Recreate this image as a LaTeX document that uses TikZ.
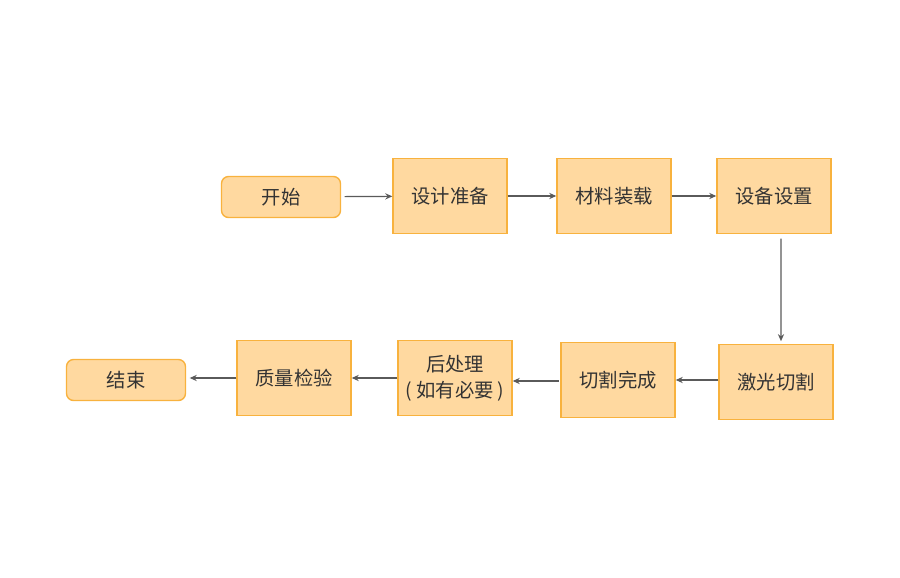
\documentclass[tikz,border=0pt]{standalone}
\usepackage{fontspec}
\setmainfont{Noto Sans CJK SC}
\usepackage{tikz}
\usetikzlibrary{arrows.meta,positioning}
\definecolor{boxfill}{RGB}{255,217,160}
\definecolor{boxline}{RGB}{248,178,62}
\definecolor{arrowgray}{RGB}{90,90,90}
\definecolor{textgray}{RGB}{51,51,51}
\tikzset{
  stepbox/.style={ draw=boxline, fill=boxfill, line width=0.8pt, inner xsep=1pt, minimum width=2.28cm, minimum height=1.5cm, text=textgray, font=\fontsize{11}{15}\selectfont, align=center }
}
\tikzset{
  termbox/.style={ stepbox, rounded corners=4pt, minimum width=2.38cm, minimum height=0.82cm }
}
\tikzset{
  flow/.style={ draw=arrowgray, line width=0.7pt, -{Stealth[length=4pt,width=3.5pt]} }
}

\begin{document}
\begin{tikzpicture}[x=0.02cm, y=-0.02cm]
      \useasboundingbox (0, 0) rectangle (900, 578);

      \node[termbox] (start) at (281, 197) {开始};
      \node[stepbox] (design) at (450, 196) {设计准备};
      \node[stepbox] (load) at (614, 196) {材料装载};
      \node[stepbox] (setup) at (774, 196) {设备设置};

      \node[stepbox] (laser) at (776, 382) {激光切割};
      \node[stepbox] (done) at (618, 380) {切割完成};
      \node[stepbox] (post) at (455, 378) {后处理\\(\ 如有必要\ )};
      \node[stepbox] (check) at (294, 378) {质量检验};
      \node[termbox] (end) at (126, 380) {结束};

      % top row
      \draw[flow, shorten <=2pt] (start) -- (design);
      \draw[flow] (design) -- (load);
      \draw[flow] (load) -- (setup);

      % down to the second row
      \draw[flow, shorten <=2.5pt, shorten >=1.5pt] ([xshift=0.14cm]setup.south) -- ([xshift=0.1cm]laser.north);

      % bottom row, right to left
      \draw[flow] (laser.west |- 0, 380) -- (done.east |- 0, 380);
      \draw[flow, shorten <=1pt] (done.west |- 0, 381) -- (post.east |- 0, 381);
      \draw[flow] (post) -- (check);
      \draw[flow, shorten >=2pt] (check.west |- 0, 378) -- (end.east |- 0, 378);
    \end{tikzpicture}
\end{document}
